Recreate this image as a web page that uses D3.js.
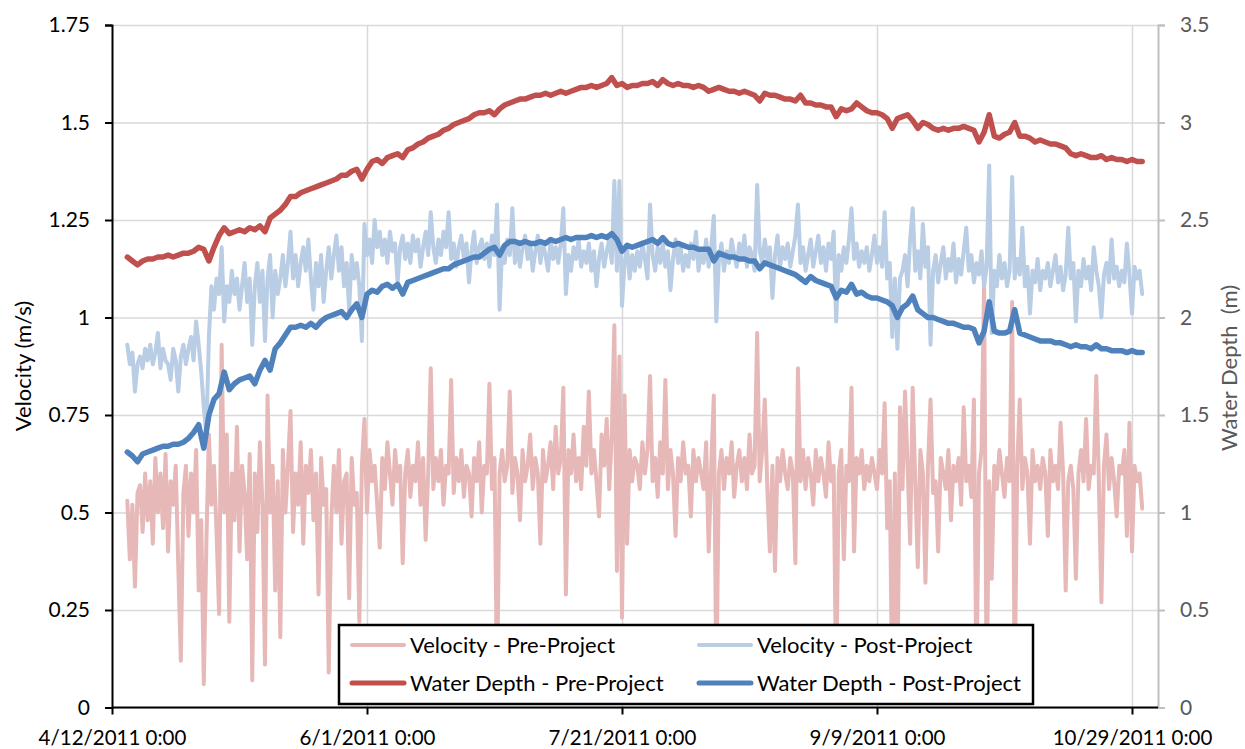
<!DOCTYPE html>
<html>
<head>
<meta charset="utf-8">
<script src="https://cdn.jsdelivr.net/npm/d3@7"></script>
<style>
  body { margin: 0; background: #fff; }
  svg text { font-family: Lato, "Open Sans", sans-serif; }
</style>
</head>
<body>
<svg id="chart"></svg>
<script>
// DATA

const dayMs = 864e5;
const axisStart = Date.UTC(2011, 3, 12);

// velocity readings every 12 h from 4/15/2011 0:00
const velStart = Date.UTC(2011, 3, 15);
const velStep = dayMs / 2;
// depth readings every 24 h from 4/15/2011 0:00
const depthStart = Date.UTC(2011, 3, 15);
const depthStep = dayMs;

const velPre = [
  .53,.38,.52,.31,.55,.57,.45,.60,.48,.58,
  .42,.64,.50,.60,.46,.65,.40,.58,.52,.62,
  .36,.12,.55,.62,.44,.60,.50,.66,.30,.48,
  .06,.42,.70,.52,.62,.45,.24,.93,.50,.70,
  .22,.60,.48,.72,.40,.62,.55,.38,.65,.07,
  .60,.45,.68,.52,.11,.80,.50,.62,.30,.58,
  .18,.66,.50,.62,.76,.45,.60,.52,.68,.42,
  .62,.55,.66,.48,.60,.29,.64,.52,.56,.09,
  .48,.62,.50,.66,.42,.58,.60,.28,.64,.52,
  .55,.22,.62,.74,.50,.66,.58,.62,.52,.41,
  .64,.56,.68,.60,.52,.66,.58,.62,.37,.60,
  .66,.54,.62,.58,.68,.52,.64,.43,.60,.87,
  .56,.64,.58,.66,.52,.62,.60,.84,.55,.64,
  .58,.66,.54,.62,.60,.49,.64,.58,.68,.50,
  .62,.60,.83,.56,.64,.05,.60,.66,.58,.62,
  .81,.55,.64,.60,.48,.66,.58,.62,.70,.56,
  .64,.60,.42,.66,.58,.62,.68,.56,.72,.60,
  .64,.82,.29,.66,.60,.70,.58,.64,.56,.72,
  .62,.81,.60,.66,.58,.49,.70,.62,.74,.56,
  .70,.98,.35,.90,.23,.80,.42,.66,.58,.64,
  .62,.56,.68,.60,.66,.85,.58,.64,.54,.68,
  .60,.84,.56,.66,.60,.44,.64,.58,.68,.60,
  .62,.49,.66,.58,.64,.60,.56,.68,.40,.62,
  .80,.05,.60,.66,.56,.64,.60,.68,.54,.62,
  .66,.58,.64,.56,.70,.60,.62,.96,.58,.66,
  .79,.56,.40,.62,.35,.64,.58,.66,.60,.56,
  .64,.60,.37,.87,.58,.66,.56,.64,.60,.52,
  .66,.58,.64,.60,.54,.68,.58,.62,.04,.60,
  .66,.38,.62,.58,.82,.40,.64,.60,.66,.56,
  .62,.58,.64,.60,.56,.66,.60,.78,.46,.58,
  .03,.60,.02,.77,.56,.81,.62,.42,.82,.58,
  .36,.66,.60,.32,.62,.79,.55,.58,.40,.64,
  .60,.56,.66,.48,.62,.58,.64,.52,.77,.58,
  .62,.54,.79,.06,.60,.66,1.09,.04,.58,.33,
  .62,.56,.66,.60,.54,.64,.58,1.04,.05,.62,
  .79,.56,.64,.60,.42,.66,.58,.62,.56,.64,
  .60,.44,.66,.58,.62,.56,.73,.60,.30,.58,
  .62,.56,.33,.60,.66,.58,.74,.56,.62,.60,
  .85,.58,.27,.62,.70,.56,.64,.58,.49,.62,
  .60,.66,.44,.73,.40,.62,.58,.60,.51
];

const velPost = [
  .93,.88,.91,.81,.88,.90,.87,.92,.89,.93,
  .88,.91,.96,.87,.92,.89,.88,.84,.92,.89,
  .81,.90,.93,.88,.92,.95,.89,.99,.93,.86,
  .77,.70,.95,1.08,1.02,1.10,1.06,1.18,.99,1.08,
  1.04,1.12,1.06,1.10,1.02,1.08,1.14,1.04,1.10,.93,
  1.08,1.14,1.04,1.12,.94,1.10,1.16,1.00,1.12,1.06,
  1.10,1.16,1.08,1.14,1.22,1.10,1.16,1.08,1.14,1.18,
  1.12,1.20,1.10,1.02,1.14,1.08,1.16,1.04,1.12,1.18,
  1.10,1.16,1.21,1.12,1.18,1.08,1.14,1.02,1.16,1.10,
  1.14,1.08,.94,1.24,1.16,1.20,1.14,1.25,1.18,1.22,
  1.16,1.20,1.14,1.22,1.17,1.19,1.09,1.18,1.21,1.15,
  1.19,1.14,1.21,1.17,1.20,1.13,1.18,1.22,1.16,1.27,
  1.18,1.14,1.20,1.16,1.22,1.18,1.27,1.15,1.19,1.13,
  1.18,1.21,1.15,1.19,1.09,1.17,1.22,1.14,1.18,1.20,
  1.15,1.19,1.13,1.21,1.16,1.29,1.02,1.18,1.14,1.20,
  1.16,1.28,1.14,1.19,1.13,1.18,1.21,1.15,1.19,1.12,
  1.17,1.21,1.14,1.19,1.16,1.12,1.20,1.15,1.18,1.14,
  1.19,1.28,1.06,1.16,1.12,1.18,1.15,1.20,1.13,1.17,
  1.14,1.19,1.12,1.17,1.08,1.15,1.19,1.13,1.17,1.20,
  1.14,1.35,1.12,1.35,1.03,1.14,1.18,1.10,1.16,1.12,
  1.17,1.13,1.19,1.15,1.10,1.29,1.16,1.12,1.18,1.14,
  1.19,1.13,1.17,1.07,1.15,1.20,1.14,1.18,1.12,1.16,
  1.13,1.19,1.15,1.22,1.12,1.17,1.14,1.20,1.13,1.18,
  1.26,.99,1.15,1.19,1.12,1.17,1.14,1.20,1.16,1.13,
  1.19,1.15,1.21,1.13,1.18,1.16,1.12,1.34,1.17,1.14,
  1.20,1.15,1.18,1.05,1.16,1.21,1.13,1.18,1.15,1.19,
  1.13,1.17,1.21,1.29,1.14,1.18,1.12,1.16,1.20,1.13,
  1.17,1.21,1.14,1.18,1.12,1.19,1.15,1.22,.99,1.16,
  1.12,1.18,1.14,1.20,1.28,1.15,1.19,1.13,1.17,1.14,
  1.18,1.12,1.16,1.21,1.14,1.18,1.13,1.27,1.10,1.14,
  .95,1.10,.92,1.10,1.12,1.16,1.08,1.20,1.28,1.12,
  1.17,1.10,1.24,1.13,1.18,.93,1.12,1.16,1.09,1.14,
  1.18,1.10,1.15,1.12,1.19,1.09,1.15,1.11,1.17,1.23,
  1.12,1.16,1.09,1.14,1.11,1.17,1.08,1.13,1.39,.96,
  1.12,1.08,1.16,1.10,1.14,1.08,1.12,1.36,1.10,1.15,
  1.11,1.23,1.08,1.13,1.01,1.12,1.09,1.15,1.07,1.12,
  1.10,1.14,1.08,1.12,1.16,1.09,1.13,1.07,1.11,1.23,
  1.10,1.14,.99,1.12,1.08,1.15,1.10,1.13,1.07,1.18,
  1.12,1.08,1.00,1.11,1.14,1.09,1.20,1.10,1.13,1.08,
  1.12,1.09,1.19,1.11,1.01,1.13,1.10,1.12,1.06
];

const depthPre = [
  2.31,2.29,2.27,2.29,2.30,2.30,2.31,2.31,2.32,2.31,
  2.32,2.33,2.33,2.34,2.36,2.35,2.29,2.36,2.42,2.46,
  2.43,2.44,2.45,2.44,2.46,2.45,2.47,2.44,2.51,2.53,
  2.55,2.58,2.62,2.62,2.64,2.65,2.66,2.67,2.68,2.69,
  2.70,2.71,2.73,2.73,2.75,2.76,2.71,2.76,2.80,2.81,
  2.79,2.82,2.83,2.84,2.82,2.86,2.87,2.89,2.90,2.92,
  2.93,2.94,2.96,2.97,2.99,3.00,3.01,3.02,3.04,3.05,
  3.05,3.06,3.04,3.07,3.09,3.10,3.11,3.12,3.12,3.13,
  3.14,3.14,3.15,3.14,3.15,3.16,3.15,3.16,3.17,3.18,
  3.18,3.19,3.18,3.19,3.20,3.23,3.19,3.20,3.18,3.19,
  3.19,3.20,3.20,3.21,3.19,3.22,3.20,3.19,3.20,3.19,
  3.19,3.18,3.19,3.18,3.16,3.17,3.18,3.17,3.16,3.16,
  3.15,3.16,3.15,3.14,3.11,3.15,3.14,3.14,3.13,3.12,
  3.12,3.11,3.14,3.10,3.10,3.09,3.09,3.08,3.08,3.03,
  3.07,3.06,3.07,3.10,3.08,3.06,3.05,3.05,3.04,3.02,
  2.97,3.02,3.03,3.04,3.01,2.97,3.00,2.99,2.97,2.96,
  2.97,2.96,2.97,2.97,2.98,2.97,2.96,2.90,2.95,3.04,
  2.93,2.92,2.94,2.95,3.00,2.93,2.93,2.92,2.90,2.91,
  2.90,2.89,2.89,2.88,2.87,2.84,2.83,2.84,2.83,2.82,
  2.82,2.83,2.81,2.82,2.81,2.81,2.80,2.81,2.80,2.80
];

const depthPost = [
  1.31,1.29,1.26,1.30,1.31,1.32,1.33,1.34,1.34,1.35,
  1.35,1.36,1.38,1.41,1.45,1.33,1.50,1.58,1.61,1.72,
  1.63,1.66,1.68,1.69,1.70,1.66,1.73,1.78,1.73,1.84,
  1.87,1.91,1.95,1.95,1.96,1.95,1.97,1.95,1.98,2.00,
  2.01,2.02,2.03,2.00,2.04,2.07,2.00,2.12,2.14,2.13,
  2.16,2.17,2.15,2.17,2.12,2.18,2.19,2.20,2.21,2.22,
  2.23,2.24,2.25,2.25,2.27,2.28,2.29,2.30,2.31,2.31,
  2.33,2.35,2.36,2.32,2.37,2.39,2.39,2.38,2.39,2.38,
  2.38,2.39,2.38,2.40,2.39,2.40,2.41,2.40,2.41,2.41,
  2.41,2.42,2.41,2.42,2.41,2.43,2.40,2.34,2.37,2.36,
  2.37,2.38,2.39,2.40,2.38,2.41,2.38,2.37,2.38,2.37,
  2.36,2.36,2.35,2.35,2.35,2.29,2.33,2.32,2.31,2.31,
  2.30,2.30,2.29,2.29,2.25,2.28,2.27,2.26,2.25,2.24,
  2.23,2.22,2.20,2.18,2.21,2.19,2.18,2.17,2.16,2.10,
  2.14,2.13,2.17,2.12,2.13,2.11,2.10,2.10,2.09,2.08,
  2.06,2.00,2.05,2.07,2.11,2.04,2.02,2.00,2.00,1.99,
  1.98,1.97,1.97,1.96,1.95,1.95,1.94,1.87,1.93,2.08,
  1.93,1.92,1.92,1.93,2.04,1.92,1.91,1.90,1.89,1.88,
  1.88,1.88,1.87,1.87,1.86,1.85,1.86,1.85,1.85,1.84,
  1.86,1.84,1.84,1.83,1.83,1.83,1.82,1.83,1.82,1.82
];

const velTicks = [0, 0.25, 0.5, 0.75, 1, 1.25, 1.5, 1.75];
const velTickLabels = ['0', '0.25', '0.5', '0.75', '1', '1.25', '1.5', '1.75'];
const depthTicks = [0, 0.5, 1, 1.5, 2, 2.5, 3, 3.5];
const depthTickLabels = ['0', '0.5', '1', '1.5', '2', '2.5', '3', '3.5'];
const dateTicks = [Date.UTC(2011,3,12), Date.UTC(2011,5,1), Date.UTC(2011,6,21), Date.UTC(2011,8,9), Date.UTC(2011,9,29)];
const dateTickLabels = ['4/12/2011 0:00', '6/1/2011 0:00', '7/21/2011 0:00', '9/9/2011 0:00', '10/29/2011 0:00'];

const seriesNames = ['Velocity - Pre-Project', 'Velocity - Post-Project', 'Water Depth - Pre-Project', 'Water Depth - Post-Project'];
const seriesColors = ['#E6B9B8', '#B9CDE5', '#C0504D', '#4F81BD'];

// LAYOUT

const width = 1245;
const height = 749;
const plotLeft = 112;
const plotRight = 1158;
const plotTop = 25;
const plotBottom = 707.5;

const svg = d3.select('#chart')
  .attr('width', width)
  .attr('height', height);

const x = d3.scaleUtc()
  .domain([axisStart, axisStart + 205.1 * dayMs])
  .range([plotLeft, plotRight]);
const yVel = d3.scaleLinear().domain([0, 1.75]).range([plotBottom, plotTop]);
const yDepth = d3.scaleLinear().domain([0, 3.5]).range([plotBottom, plotTop]);

// gridlines
svg.append('g')
  .attr('transform', `translate(${plotLeft},0)`)
  .call(d3.axisLeft(yVel).tickValues(velTicks).tickSize(-(plotRight - plotLeft)).tickFormat(''))
  .call(g => g.select('.domain').remove())
  .call(g => g.selectAll('line').attr('stroke', '#D9D9D9').attr('stroke-width', 1.5));

svg.append('g')
  .attr('transform', `translate(0,${plotBottom})`)
  .call(d3.axisBottom(x).tickValues(dateTicks.slice(1)).tickSize(-(plotBottom - plotTop)).tickFormat(''))
  .call(g => g.select('.domain').remove())
  .call(g => g.selectAll('line').attr('stroke', '#D9D9D9').attr('stroke-width', 1.5));

// series
function toPoints(values, start, step) {
  return values.map((v, i) => ({t: start + i * step, v: v}));
}

const velLine = d3.line().x(d => x(d.t)).y(d => yVel(d.v));
const depthLine = d3.line().x(d => x(d.t)).y(d => yDepth(d.v));

const seriesData = [
  {pts: toPoints(velPre, velStart, velStep), line: velLine, w: 4},
  {pts: toPoints(velPost, velStart, velStep), line: velLine, w: 4},
  {pts: toPoints(depthPre, depthStart, depthStep), line: depthLine, w: 5.5},
  {pts: toPoints(depthPost, depthStart, depthStep), line: depthLine, w: 5.5}
];

seriesData.forEach(function(s, idx) {
  svg.append('path')
    .attr('d', s.line(s.pts))
    .attr('fill', 'none')
    .attr('stroke', seriesColors[idx])
    .attr('stroke-width', s.w)
    .attr('stroke-linejoin', 'round')
    .attr('stroke-linecap', 'round');
});

// axes
const leftAxis = svg.append('g')
  .attr('transform', `translate(${plotLeft},0)`)
  .call(d3.axisLeft(yVel).tickValues(velTicks).tickSize(7).tickPadding(15)
    .tickFormat((d, i) => velTickLabels[i]));
leftAxis.selectAll('line, path').attr('stroke', '#000').attr('stroke-width', 2);
leftAxis.selectAll('text').attr('font-size', 21).attr('fill', '#000');

const rightAxis = svg.append('g')
  .attr('transform', `translate(${plotRight},0)`)
  .call(d3.axisRight(yDepth).tickValues(depthTicks).tickSize(7).tickPadding(15)
    .tickFormat((d, i) => depthTickLabels[i]));
rightAxis.selectAll('line, path').attr('stroke', '#BFBFBF').attr('stroke-width', 2);
rightAxis.selectAll('text').attr('font-size', 21).attr('fill', '#595959');

const bottomAxis = svg.append('g')
  .attr('transform', `translate(0,${plotBottom})`)
  .call(d3.axisBottom(x).tickValues(dateTicks).tickSize(7).tickPadding(16)
    .tickFormat((d, i) => dateTickLabels[i]));
bottomAxis.select('.domain').attr('d', `M${plotLeft},0H${plotRight}`);
bottomAxis.selectAll('line, path').attr('stroke', '#000').attr('stroke-width', 2);
bottomAxis.selectAll('text').attr('font-size', 20.5).attr('fill', '#000');

// axis titles
svg.append('text')
  .attr('transform', 'translate(31,366) rotate(-90)')
  .attr('text-anchor', 'middle')
  .attr('font-size', 22)
  .attr('fill', '#000')
  .text('Velocity (m/s)');

svg.append('text')
  .attr('transform', 'translate(1237,368) rotate(-90)')
  .attr('text-anchor', 'middle')
  .attr('font-size', 22)
  .attr('fill', '#595959')
  .style('white-space', 'pre')
  .text('Water Depth  (m)');

// legend
const legend = svg.append('g');
legend.append('rect')
  .attr('x', 339).attr('y', 625)
  .attr('width', 694).attr('height', 79)
  .attr('fill', '#fff')
  .attr('stroke', '#000')
  .attr('stroke-width', 2.5);

const legendCols = [352, 699];
const legendRows = [645, 683];
seriesNames.forEach(function(name, idx) {
  const lx = legendCols[idx % 2];
  const ly = legendRows[Math.floor(idx / 2)];
  legend.append('line')
    .attr('x1', lx).attr('x2', lx + 52)
    .attr('y1', ly).attr('y2', ly)
    .attr('stroke', seriesColors[idx])
    .attr('stroke-width', idx < 2 ? 4 : 5)
    .attr('stroke-linecap', 'round');
  legend.append('text')
    .attr('x', lx + 58).attr('y', ly)
    .attr('dy', '0.35em')
    .attr('font-size', 22)
    .attr('fill', '#000')
    .text(name);
});
</script>
</body>
</html>
